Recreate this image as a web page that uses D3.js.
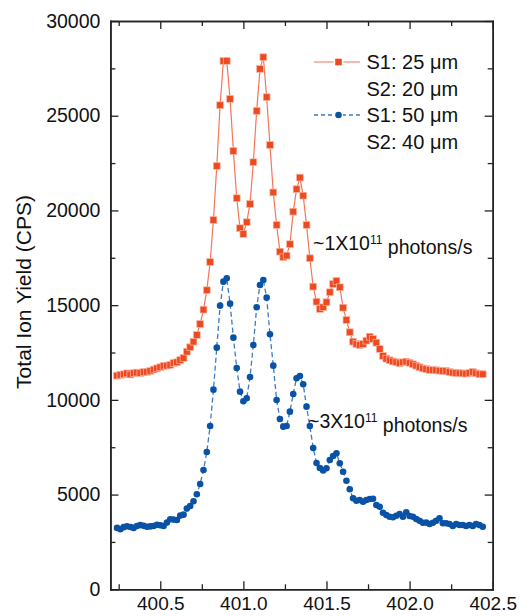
<!DOCTYPE html>
<html>
<head>
<meta charset="utf-8">
<script src="https://cdn.jsdelivr.net/npm/d3@7"></script>
<style>
  body { margin: 0; background: #fff; }
  svg { font-family: "Liberation Sans", Arial, sans-serif; }
  .axis path, .axis line { stroke: #222; }
  .axis path { stroke-width: 1.5; }
  .axis line { stroke-width: 1.3; }
  .axis text { font-size: 19.5px; fill: #111; }
  .axis.xlab text { font-size: 19px; }
</style>
</head>
<body>
<svg id="chart" width="520" height="616"></svg>
<script>
const energy = [
  400.24, 400.26, 400.28, 400.30, 400.32, 400.34, 400.36, 400.38, 400.40, 400.42,
  400.44, 400.46, 400.48, 400.50, 400.52, 400.54, 400.56, 400.58, 400.60, 400.62,
  400.64, 400.66, 400.68, 400.70, 400.72, 400.74, 400.76, 400.78, 400.80, 400.82,
  400.84, 400.86, 400.88, 400.90, 400.92, 400.94, 400.96, 400.98, 401.00, 401.02,
  401.04, 401.06, 401.08, 401.10, 401.12, 401.14, 401.16, 401.18, 401.20, 401.22,
  401.24, 401.26, 401.28, 401.30, 401.32, 401.34, 401.36, 401.38, 401.40, 401.42,
  401.44, 401.46, 401.48, 401.50, 401.52, 401.54, 401.56, 401.58, 401.60, 401.62,
  401.64, 401.66, 401.68, 401.70, 401.72, 401.74, 401.76, 401.78, 401.80, 401.82,
  401.84, 401.86, 401.88, 401.90, 401.92, 401.94, 401.96, 401.98, 402.00, 402.02,
  402.04, 402.06, 402.08, 402.10, 402.12, 402.14, 402.16, 402.18, 402.20, 402.22,
  402.24, 402.26, 402.28, 402.30, 402.32, 402.34, 402.36, 402.38, 402.40, 402.42,
  402.44
];

// S1: 25 um / S2: 20 um  (~1X10^11 photons/s)
const yieldSmall = [
  11280, 11320, 11350, 11400, 11340, 11410, 11440, 11420, 11470, 11480,
  11530, 11600, 11660, 11720, 11800, 11806, 11850, 11950, 11985, 12100,
  12213, 12545, 12778, 13073, 13427, 14008, 14763, 15787, 17281, 19500,
  22350, 25555, 27894, 27894, 25888, 23142, 20645, 19061, 18760, 19378,
  20344, 22546, 25254, 27472, 28090, 25978, 23460, 20950, 19235, 17825,
  17530, 17614, 18216, 19937, 21120, 21733, 20782, 19235, 17477, 15977,
  15185, 14800, 14890, 15154, 15682, 16120, 16278, 15945, 14868, 14219,
  13570, 13073, 12952, 12899, 12950, 13126, 13337, 13216, 13020, 12688,
  12318, 12176, 12091, 12030, 11985, 11933, 11985, 12017, 11960, 11880,
  11806, 11722, 11660, 11632, 11579, 11570, 11563, 11542, 11530, 11526,
  11474, 11440, 11420, 11405, 11400, 11384, 11420, 11474, 11405, 11360,
  11352
];

// S1: 50 um / S2: 40 um  (~3X10^11 photons/s)
const yieldLarge = [
  3240, 3170, 3280, 3330, 3290, 3240, 3340, 3390, 3350, 3300,
  3320, 3340, 3410, 3380, 3340, 3520, 3700, 3680, 3660, 3890,
  3940, 4260, 4400, 4650, 5020, 5560, 6300, 7250, 8620, 10539,
  12756, 14974, 16241, 16420, 15080, 13284, 11685, 10433, 9926, 10085,
  11209, 12899, 14890, 16067, 16330, 15397, 13464, 11806, 9995, 8992,
  8585, 8622, 9377, 10312, 11141, 11262, 10824, 9641, 8622, 7460,
  6670, 6400, 6270, 6389, 6827, 7038, 7181, 6653, 6209, 5734,
  5280, 4805, 4678, 4715, 4625, 4715, 4768, 4780, 4451, 4361,
  4044, 3923, 3833, 3801, 3886, 3976, 3833, 4066, 3870, 3833,
  3712, 3622, 3516, 3520, 3448, 3516, 3622, 3749, 3485, 3485,
  3448, 3342, 3448, 3395, 3395, 3342, 3395, 3342, 3448, 3395,
  3305
];

const xMajor = [400.5, 401.0, 401.5, 402.0, 402.5];
const xMinor = [400.25, 400.75, 401.25, 401.75, 402.25];
const yMajor = [0, 5000, 10000, 15000, 20000, 25000, 30000];
const yMinor = [2500, 7500, 12500, 17500, 22500, 27500];

const legendLabels = ["S1: 25 \u03bcm", "S2: 20 \u03bcm", "S1: 50 \u03bcm", "S2: 40 \u03bcm"];

const width = 520;
const height = 616;
const margin = { top: 21, right: 27.3, bottom: 26.7, left: 110.4 };

const orange = "#ee4a22";
const orangeLine = "#f2775a";
const blue = "#0a52a5";
const blueLine = "#3d7ac6";

const svg = d3.select("#chart");

const x = d3.scaleLinear()
  .domain([400.2, 402.5])
  .range([margin.left, width - margin.right]);
const y = d3.scaleLinear()
  .domain([0, 30000])
  .range([height - margin.bottom, margin.top]);

const fmtX = d3.format(".1f");

// axes, ticks point inward on all four sides
const bottom = height - margin.bottom;
const right = width - margin.right;

svg.append("g").attr("class", "axis xlab")
  .attr("transform", `translate(0,${bottom})`)
  .call(d3.axisBottom(x).tickValues(xMajor).tickSizeInner(-8).tickSizeOuter(0).tickPadding(7).tickFormat(fmtX));
svg.append("g").attr("class", "axis")
  .attr("transform", `translate(0,${bottom})`)
  .call(d3.axisBottom(x).tickValues(xMinor).tickSizeInner(-5).tickSizeOuter(0).tickFormat(""));
svg.append("g").attr("class", "axis")
  .attr("transform", `translate(0,${margin.top})`)
  .call(d3.axisTop(x).tickValues(xMajor).tickSizeInner(-8).tickSizeOuter(0).tickFormat(""));
svg.append("g").attr("class", "axis")
  .attr("transform", `translate(0,${margin.top})`)
  .call(d3.axisTop(x).tickValues(xMinor).tickSizeInner(-5).tickSizeOuter(0).tickFormat(""));

svg.append("g").attr("class", "axis")
  .attr("transform", `translate(${margin.left},0)`)
  .call(d3.axisLeft(y).tickValues(yMajor).tickSizeInner(-8).tickSizeOuter(0).tickPadding(10).tickFormat(d3.format("d")));
svg.append("g").attr("class", "axis")
  .attr("transform", `translate(${margin.left},0)`)
  .call(d3.axisLeft(y).tickValues(yMinor).tickSizeInner(-5).tickSizeOuter(0).tickFormat(""));
svg.append("g").attr("class", "axis")
  .attr("transform", `translate(${right},0)`)
  .call(d3.axisRight(y).tickValues(yMajor).tickSizeInner(-8).tickSizeOuter(0).tickFormat(""));
svg.append("g").attr("class", "axis")
  .attr("transform", `translate(${right},0)`)
  .call(d3.axisRight(y).tickValues(yMinor).tickSizeInner(-5).tickSizeOuter(0).tickFormat(""));

svg.selectAll(".axis .domain").attr("stroke-linecap", "square");

// y title
svg.append("text")
  .attr("transform", "translate(31,292) rotate(-90)")
  .attr("text-anchor", "middle")
  .style("font-size", "21px")
  .style("fill", "#111")
  .text("Total Ion Yield (CPS)");

const line = d3.line()
  .x((d) => x(d[0]))
  .y((d) => y(d[1]));

const small = energy.map((e, i) => [e, yieldSmall[i]]);
const large = energy.map((e, i) => [e, yieldLarge[i]]);

// blue series, dashed
svg.append("path")
  .datum(large)
  .attr("fill", "none")
  .attr("stroke", blueLine)
  .attr("stroke-width", 1.3)
  .attr("stroke-dasharray", "5,3")
  .attr("d", line);
svg.append("g")
  .selectAll("circle")
  .data(large)
  .enter()
  .append("circle")
  .attr("cx", (d) => x(d[0]))
  .attr("cy", (d) => y(d[1]))
  .attr("r", 3.3)
  .attr("fill", blue);

// orange series, solid
svg.append("path")
  .datum(small)
  .attr("fill", "none")
  .attr("stroke", orangeLine)
  .attr("stroke-width", 1.2)
  .attr("d", line);
svg.append("g")
  .selectAll("rect")
  .data(small)
  .enter()
  .append("rect")
  .attr("x", (d) => x(d[0]) - 3.4)
  .attr("y", (d) => y(d[1]) - 3.4)
  .attr("width", 6.8)
  .attr("height", 6.8)
  .attr("fill", orange)
  .attr("stroke", "#f9b8a4")
  .attr("stroke-width", 0.7);

// legend
const legend = svg.append("g").attr("transform", "translate(314,0)");
const legRows = [62, 89, 115, 142];

legend.append("line")
  .attr("x1", 0).attr("x2", 46).attr("y1", legRows[0]).attr("y2", legRows[0])
  .attr("stroke", orangeLine).attr("stroke-width", 1.2);
legend.append("rect")
  .attr("x", 19.5).attr("y", legRows[0] - 5).attr("width", 10).attr("height", 10)
  .attr("fill", "#fff");
legend.append("rect")
  .attr("x", 21.2).attr("y", legRows[0] - 3.3).attr("width", 6.6).attr("height", 6.6)
  .attr("fill", orange);

legend.append("line")
  .attr("x1", 0).attr("x2", 46).attr("y1", legRows[2]).attr("y2", legRows[2])
  .attr("stroke", blueLine).attr("stroke-width", 1.3).attr("stroke-dasharray", "4,3");
legend.append("circle")
  .attr("cx", 24.5).attr("cy", legRows[2]).attr("r", 4.5).attr("fill", "#fff");
legend.append("circle")
  .attr("cx", 24.5).attr("cy", legRows[2]).attr("r", 3.3).attr("fill", blue);

legend.selectAll("text.leg")
  .data(legendLabels)
  .enter()
  .append("text")
  .attr("class", "leg")
  .attr("x", 52.5)
  .attr("y", (d, i) => legRows[i])
  .attr("dy", "0.36em")
  .style("font-size", "20px")
  .style("fill", "#111")
  .text((d) => d);

// flux annotations
const notes = [
  { x: 313, y: 243, lead: "~1X10", sup: "11", tail: " photons/s" },
  { x: 308, y: 421, lead: "~3X10", sup: "11", tail: " photons/s" },
];
notes.forEach((n) => {
  const t = svg.append("text")
    .attr("x", n.x)
    .attr("y", n.y)
    .attr("dy", "0.36em")
    .style("font-size", "19.5px")
    .style("fill", "#111");
  t.append("tspan").text(n.lead);
  t.append("tspan").attr("dy", "-0.5em").style("font-size", "12px").text(n.sup);
  t.append("tspan").attr("dy", "0.5em").text(n.tail);
});
</script>
</body>
</html>
